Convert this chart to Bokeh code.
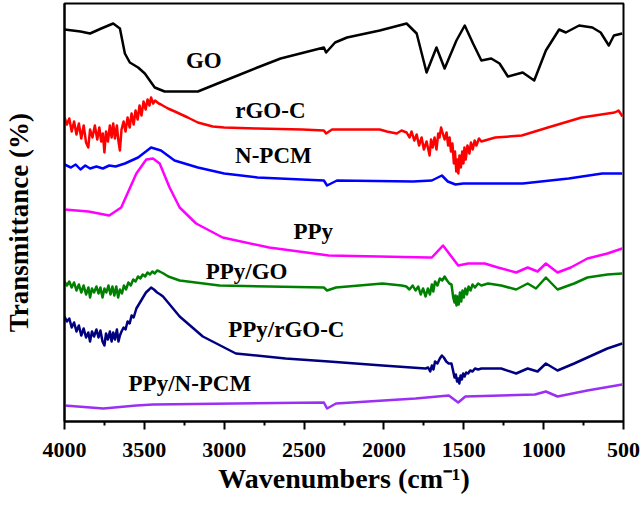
import math
from bokeh.plotting import figure
from bokeh.models import Range1d, FixedTicker, ColumnDataSource
from bokeh.embed import file_html
from bokeh.resources import INLINE
from bokeh.core.properties import value

# ---------------- data (wavenumber in cm-1, transmittance in arbitrary offset units) -------------
xticks = [4000, 3500, 3000, 2500, 2000, 1500, 1000, 500]
xtick_labels = ["4000", "3500", "3000", "2500", "2000", "1500", "1000", "500"]
xminor = [3750, 3250, 2750, 2250, 1750, 1250, 750]

go_wn = [4000, 3900, 3840, 3770, 3695, 3653, 3622, 3591, 3539, 3497, 3435, 3373, 3165, 3041,
         2916, 2792, 2647, 2376, 2362, 2306, 2231, 2026, 1858, 1795, 1733, 1671, 1620, 1546,
         1494, 1442, 1390, 1328, 1276, 1224, 1131, 1059, 986, 903, 861, 778, 695, 643, 592,
         560, 508]
go_t = [392, 390, 388, 393, 398, 393, 368, 359, 354, 348, 334, 330, 330, 338,
        346, 354, 363, 374, 369, 379, 384, 391, 398, 388, 349, 374, 353, 381,
        396, 378, 361, 363, 358, 345, 349, 341, 371, 392, 389, 396, 394, 389, 376,
        386, 388]

rgo_wn = [4000, 3985, 3970, 3955, 3940, 3925, 3910, 3895, 3880, 3865, 3851, 3840, 3825, 3810,
          3795, 3782, 3770, 3760, 3750, 3740, 3728, 3716, 3705, 3695, 3684, 3672, 3662, 3653,
          3643, 3630, 3618, 3605, 3592, 3580, 3567, 3555, 3542, 3530, 3518, 3505, 3492, 3480,
          3468, 3458, 3445, 3433, 3410, 3396, 3352, 3309, 3228, 3165, 3072, 3000, 2792, 2511,
          2376, 2362, 2325, 2026, 1982, 1920, 1890, 1858, 1840, 1827, 1810, 1795, 1780, 1764,
          1750, 1733, 1714, 1705, 1695, 1683, 1671, 1660, 1652, 1642, 1635, 1620, 1608, 1598,
          1589, 1580, 1571, 1562, 1555, 1547, 1541, 1534, 1527, 1518, 1510, 1502, 1496, 1488,
          1477, 1465, 1455, 1444, 1432, 1421, 1405, 1390, 1303, 1137, 973, 763, 556, 531, 506]
rgo_t = [304, 297, 303, 290, 300, 287, 298, 283, 296, 279, 274, 292, 284, 296,
         282, 294, 280, 288, 269, 290, 280, 296, 284, 298, 283, 296, 280, 271,
         292, 300, 290, 304, 294, 308, 297, 311, 302, 316, 306, 320, 312, 322,
         316, 324, 318, 321, 318, 317, 313, 310, 304, 299, 295, 294, 293, 292,
         291, 288, 292, 292, 290, 288, 291, 289, 284, 290, 281, 287, 276, 284,
         272, 280, 266, 282, 274, 284, 272, 288, 284, 294, 290, 282, 289, 276,
         284, 270, 278, 258, 270, 250, 262, 248, 266, 254, 270, 258, 274, 262,
         276, 268, 279, 272, 281, 276, 283, 280, 284, 286, 294, 304, 309, 311, 305]

npcm_wn = [4000, 3960, 3930, 3900, 3870, 3840, 3800, 3760, 3720, 3680, 3622, 3539, 3458, 3396,
           3311, 3165, 3000, 2792, 2376, 2356, 2294, 1817, 1700, 1637, 1600, 1552, 1504, 1131,
           843, 633, 508]
npcm_t = [257, 254, 257, 252, 256, 253, 255, 253, 256, 255, 258, 264, 274, 271,
          261, 254, 248, 244, 241, 236, 241, 240, 241, 246, 240, 237, 238, 238,
          243, 248, 248]

ppy_wn = [4000, 3850, 3720, 3645, 3550, 3488, 3446, 3404, 3342, 3279, 3176, 3010, 2719, 2345,
          1719, 1700, 1630, 1535, 1473, 1369, 1286, 1172, 1100, 1038, 986, 913, 830, 726,
          601, 508]
ppy_t = [212, 210, 206, 214, 248, 262, 263, 258, 234, 214, 198, 184, 174, 166,
         164, 164, 176, 156, 158, 158, 154, 149, 154, 150, 158, 149, 154, 163,
         168, 173]

ppygo_wn = [4000, 3985, 3970, 3955, 3940, 3925, 3910, 3895, 3880, 3865, 3850, 3840, 3828, 3815,
            3800, 3787, 3775, 3762, 3750, 3738, 3725, 3712, 3700, 3688, 3676, 3664, 3653, 3640,
            3628, 3615, 3600, 3585, 3570, 3555, 3540, 3525, 3510, 3495, 3480, 3465, 3450, 3435,
            3420, 3404, 3380, 3350, 3279, 3030, 2719, 2376, 2356, 2300, 2009, 1889, 1860, 1840,
            1820, 1802, 1785, 1770, 1755, 1739, 1725, 1712, 1700, 1691, 1680, 1665, 1650, 1635,
            1620, 1605, 1590, 1577, 1566, 1558, 1552, 1546, 1540, 1532, 1524, 1516, 1508, 1500,
            1490, 1480, 1470, 1458, 1445, 1430, 1410, 1390, 1348, 1266, 1172, 1100, 1048, 986,
            913, 809, 726, 601, 508]
ppygo_t = [140, 136, 140, 134, 139, 131, 137, 129, 136, 127, 134, 124, 133, 129,
           135, 128, 134, 124, 133, 129, 136, 127, 135, 126, 135, 124, 132, 128,
           136, 132, 139, 136, 142, 140, 145, 143, 147, 145, 149, 147, 150, 148,
           151, 150, 148, 145, 141, 136, 135, 134, 131, 134, 138, 136, 135, 132,
           136, 131, 135, 127, 133, 125, 133, 127, 137, 130, 140, 136, 143, 141,
           145, 141, 138, 137, 124, 119, 126, 116, 125, 117, 129, 120, 131, 124,
           133, 127, 135, 131, 137, 134, 138, 136, 138, 136, 132, 138, 133, 144,
           132, 138, 144, 147, 148]

ppyrgo_wn = [4000, 3985, 3970, 3955, 3940, 3925, 3910, 3895, 3880, 3865, 3851, 3840, 3828, 3815,
             3800, 3787, 3775, 3762, 3750, 3740, 3728, 3716, 3705, 3695, 3684, 3672, 3662, 3653,
             3643, 3630, 3618, 3605, 3592, 3580, 3567, 3550, 3520, 3490, 3470, 3458, 3440, 3420,
             3400, 3383, 3279, 3134, 2927, 2616, 2345, 2009, 1739, 1723, 1710, 1700, 1690, 1680,
             1665, 1650, 1637, 1625, 1610, 1595, 1577, 1566, 1558, 1550, 1542, 1535, 1528, 1520,
             1512, 1504, 1495, 1485, 1473, 1460, 1445, 1430, 1410, 1390, 1266, 1172, 1100, 1038,
             986, 913, 809, 726, 601, 508]
ppyrgo_t = [105, 100, 103, 94, 99, 90, 96, 86, 93, 84, 89, 80, 90, 85,
            92, 84, 91, 80, 76, 88, 82, 90, 80, 89, 82, 92, 80, 86,
            90, 94, 92, 100, 98, 106, 104, 113, 121, 129, 132, 134, 132, 129,
            127, 125, 105, 85, 68, 63, 60, 56, 53, 54, 50, 56, 52, 60,
            58, 63, 66, 64, 60, 58, 58, 50, 44, 47, 40, 43, 38, 46,
            42, 48, 45, 49, 48, 51, 50, 53, 52, 53, 53, 48, 53, 50,
            58, 51, 58, 64, 73, 78]

ppynpcm_wn = [4000, 3757, 3550, 3446, 2376, 2356, 2300, 1802, 1594, 1535, 1490, 1266, 1054, 986,
              913, 726, 508]
ppynpcm_t = [16, 13, 16, 17, 19, 13, 18, 23, 26, 19, 25, 26, 27, 30,
             25, 31, 37]

series_names = ["GO", "rGO-C", "N-PCM", "PPy", "PPy/GO", "PPy/rGO-C", "PPy/N-PCM"]
series_colors = ["#000000", "#ff0000", "#0000ff", "#ff00ff", "#008000", "#000080", "#9b30f5"]
label_wn = [3128, 2711, 2692, 2443, 2860, 2611, 3215]
label_t = [361, 311, 266, 190, 150, 92, 38]

# ---------------- figure -------------
SERIF = "Liberation Serif"

p = figure(width=640, height=512, output_backend="svg", toolbar_location=None,
           x_range=Range1d(4000, 500), y_range=Range1d(0, 418),
           min_border_left=61, min_border_right=17, min_border_top=3, min_border_bottom=91)
p.grid.visible = False
p.outline_line_color = "black"
p.outline_line_width = 2
p.background_fill_color = "white"
p.border_fill_color = "white"

xa = p.xaxis[0]
xa.ticker = FixedTicker(ticks=xticks, minor_ticks=xminor)
xa.major_label_overrides = {t: s for t, s in zip(xticks, xtick_labels)}
xa.axis_line_width = 2
xa.major_tick_line_width = 2
xa.minor_tick_line_width = 2
xa.major_tick_in = 0
xa.major_tick_out = 8
xa.minor_tick_in = 0
xa.minor_tick_out = 4
xa.major_label_standoff = 13
xa.major_label_text_font = SERIF
xa.major_label_text_font_style = "bold"
xa.major_label_text_font_size = "22px"
xa.major_label_text_color = "black"
xa.axis_label = "Wavenumbers (cm\u207b\u00b9)"
xa.axis_label_text_font = SERIF
xa.axis_label_text_font_style = "bold"
xa.axis_label_text_font_size = "28px"
xa.axis_label_text_color = "black"
xa.axis_label_standoff = 3

ya = p.yaxis[0]
ya.ticker = FixedTicker(ticks=[])
ya.major_tick_out = 0
ya.major_tick_in = 0
ya.minor_tick_out = 0
ya.minor_tick_in = 0
ya.major_label_standoff = 0
ya.axis_line_width = 2
ya.axis_label = "Transmittance (%)\u00a0\u00a0\u00a0"
ya.axis_label_text_font = SERIF
ya.axis_label_text_font_style = "bold"
ya.axis_label_text_font_size = "27px"
ya.axis_label_text_color = "black"
ya.axis_label_standoff = 31

all_wn = [go_wn, rgo_wn, npcm_wn, ppy_wn, ppygo_wn, ppyrgo_wn, ppynpcm_wn]
all_t = [go_t, rgo_t, npcm_t, ppy_t, ppygo_t, ppyrgo_t, ppynpcm_t]
for wn, t, c in zip(all_wn, all_t, series_colors):
    p.line(wn, t, line_color=c, line_width=2.5, line_join="round")

src = ColumnDataSource(dict(x=label_wn, y=label_t, text=series_names))
p.text(x="x", y="y", text="text", source=src, text_font=value(SERIF),
       text_font_style="bold", text_font_size="23px", text_color="black",
       text_align="center", text_baseline="middle")

open("out.html", "w").write(file_html(p, INLINE))
